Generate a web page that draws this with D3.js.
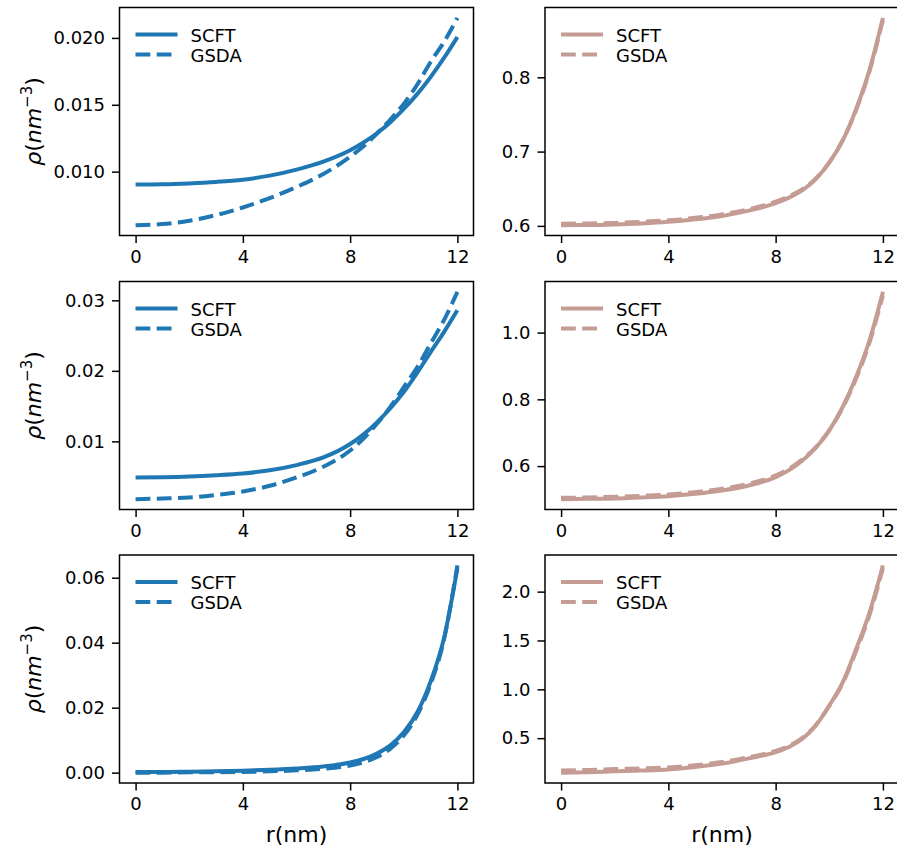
<!DOCTYPE html>
<html>
<head>
<meta charset="utf-8">
<script src="https://cdn.jsdelivr.net/npm/d3@7"></script>
<style>
  html, body { margin: 0; padding: 0; background: #ffffff; }
  svg { display: block; }
  text { font-family: "DejaVu Sans", sans-serif; fill: #000; }
</style>
</head>
<body>
<svg id="chart" width="897" height="852"></svg>
<script>
// ---------- data ----------
const r = [0, 1, 2, 3, 4, 5, 6, 7, 8, 8.5, 9, 9.5, 10, 10.5, 11, 11.5, 12];

const scftA = [0.00903, 0.00905, 0.00912, 0.00923, 0.0094, 0.0097, 0.01015, 0.01075, 0.0116, 0.01218, 0.01287, 0.0137, 0.01469, 0.0158, 0.01707, 0.0185, 0.02007];
const gsdaA = [0.0060, 0.00608, 0.00633, 0.00675, 0.00732, 0.00802, 0.00885, 0.00982, 0.01112, 0.0119, 0.01285, 0.0139, 0.01507, 0.0165, 0.0182, 0.0197, 0.0215];

const scftB = [0.00488, 0.00492, 0.00502, 0.0052, 0.00545, 0.0059, 0.00664, 0.00772, 0.00963, 0.0110, 0.0127, 0.0147, 0.0170, 0.0197, 0.02266, 0.0255, 0.0286];
const gsdaB = [0.00181, 0.0019, 0.00203, 0.0024, 0.00289, 0.0037, 0.00488, 0.0064, 0.00870, 0.0104, 0.0125, 0.0149, 0.01768, 0.0205, 0.02385, 0.0272, 0.0312];

const scftC = [0.0002, 0.0002, 0.0003, 0.0004, 0.0006, 0.0009, 0.0013, 0.0019, 0.0031, 0.0042, 0.0059, 0.0084, 0.0124, 0.0185, 0.028, 0.0414, 0.0630];
const gsdaC = [0.0000, 0.0000, 0.0001, 0.0001, 0.0002, 0.0004, 0.0007, 0.0012, 0.0022, 0.0032, 0.0048, 0.0074, 0.0114, 0.0177, 0.0272, 0.0410, 0.0638];

const scftD = [0.601, 0.6012, 0.602, 0.6033, 0.6054, 0.6088, 0.6134, 0.6205, 0.6305, 0.638, 0.648, 0.663, 0.685, 0.715, 0.757, 0.810, 0.880];
const gsdaD = [0.603, 0.6033, 0.604, 0.6055, 0.6075, 0.611, 0.6155, 0.6225, 0.6325, 0.640, 0.6495, 0.664, 0.6855, 0.715, 0.756, 0.808, 0.877];

const scftE = [0.501, 0.502, 0.503, 0.506, 0.510, 0.517, 0.527, 0.542, 0.567, 0.588, 0.617, 0.655, 0.707, 0.777, 0.867, 0.977, 1.122];
const gsdaE = [0.505, 0.506, 0.508, 0.511, 0.515, 0.522, 0.532, 0.547, 0.572, 0.592, 0.620, 0.657, 0.707, 0.775, 0.862, 0.970, 1.112];

const scftF = [0.147, 0.152, 0.160, 0.168, 0.180, 0.205, 0.239, 0.293, 0.357, 0.410, 0.494, 0.630, 0.834, 1.071, 1.412, 1.786, 2.269];
const gsdaF = [0.170, 0.175, 0.183, 0.190, 0.200, 0.222, 0.255, 0.305, 0.370, 0.422, 0.503, 0.635, 0.830, 1.060, 1.390, 1.760, 2.240];

const xTicks = [0, 4, 8, 12];
const yTicksA = [0.010, 0.015, 0.020];
const yTicksB = [0.01, 0.02, 0.03];
const yTicksC = [0.00, 0.02, 0.04, 0.06];
const yTicksD = [0.6, 0.7, 0.8];
const yTicksE = [0.6, 0.8, 1.0];
const yTicksF = [0.5, 1.0, 1.5, 2.0];

const seriesNames = ["SCFT", "GSDA"];
const colorLeft = "#1f77b4";
const colorRight = "#c49c94";

// ---------- layout ----------
const panels = [
  {row: 0, col: 0, s: scftA, g: gsdaA, ticks: yTicksA, fmt: ".3f", color: colorLeft},
  {row: 0, col: 1, s: scftD, g: gsdaD, ticks: yTicksD, fmt: ".1f", color: colorRight},
  {row: 1, col: 0, s: scftB, g: gsdaB, ticks: yTicksB, fmt: ".2f", color: colorLeft},
  {row: 1, col: 1, s: scftE, g: gsdaE, ticks: yTicksE, fmt: ".1f", color: colorRight},
  {row: 2, col: 0, s: scftC, g: gsdaC, ticks: yTicksC, fmt: ".2f", color: colorLeft},
  {row: 2, col: 1, s: scftF, g: gsdaF, ticks: yTicksF, fmt: ".1f", color: colorRight}
];

const colX = [119.5, 545];
const rowY = [7.5, 281.5, 555];
const pw = 354, ph = 228;
const fontSize = 18;
const labelSize = 22;

const svg = d3.select("#chart");
svg.append("rect").attr("width", 897).attr("height", 852).attr("fill", "#fff");

function padDomain(lo, hi) {
  const d = (hi - lo) * 0.05;
  return [lo - d, hi + d];
}

panels.forEach(p => {
  const x0 = colX[p.col], y0 = rowY[p.row];
  const g = svg.append("g").attr("transform", `translate(${x0},${y0})`);

  const x = d3.scaleLinear().domain(padDomain(d3.min(r), d3.max(r))).range([0, pw]);
  const all = p.s.concat(p.g);
  const y = d3.scaleLinear().domain(padDomain(d3.min(all), d3.max(all))).range([ph, 0]);

  const line = d3.line().x((d, i) => x(r[i])).y(d => y(d)).curve(d3.curveMonotoneX);

  g.append("path").datum(p.s).attr("d", line)
    .attr("fill", "none").attr("stroke", p.color).attr("stroke-width", 4);
  g.append("path").datum(p.g).attr("d", line)
    .attr("fill", "none").attr("stroke", p.color).attr("stroke-width", 4)
    .attr("stroke-dasharray", "14.8,6.4");

  // axes
  const xa = g.append("g").attr("transform", `translate(0,${ph})`)
    .call(d3.axisBottom(x).tickValues(xTicks).tickFormat(d3.format("d")).tickSize(7.5).tickPadding(7));
  const ya = g.append("g")
    .call(d3.axisLeft(y).tickValues(p.ticks).tickFormat(d3.format(p.fmt)).tickSize(7.5).tickPadding(7));
  [xa, ya].forEach(a => {
    a.select(".domain").remove();
    a.selectAll("line").attr("stroke", "#000").attr("stroke-width", 1.5);
    a.selectAll("text").attr("font-size", fontSize).attr("font-family", "DejaVu Sans");
  });

  // frame
  g.append("rect").attr("x", 0).attr("y", 0).attr("width", pw).attr("height", ph)
    .attr("fill", "none").attr("stroke", "#000").attr("stroke-width", 1.5);

  // legend
  const leg = g.append("g").attr("transform", "translate(16,27)");
  seriesNames.forEach((name, i) => {
    const ly = i * 20;
    leg.append("line").attr("x1", 0).attr("x2", 42).attr("y1", ly).attr("y2", ly)
      .attr("stroke", p.color).attr("stroke-width", 4)
      .attr("stroke-dasharray", i === 1 ? "14.8,6.4" : null);
    leg.append("text").attr("x", 55).attr("y", ly + 7).attr("font-size", fontSize).text(name);
  });

  // y label (left column)
  if (p.col === 0) {
    const t = svg.append("text")
      .attr("transform", `translate(${41},${y0 + ph / 2}) rotate(-90)`)
      .attr("text-anchor", "middle")
      .attr("font-size", labelSize);
    t.append("tspan").attr("font-style", "italic").text("ρ");
    t.append("tspan").text("(");
    t.append("tspan").attr("font-style", "italic").text("nm");
    t.append("tspan").attr("font-size", 15).attr("dy", -9).text("−3");
    t.append("tspan").attr("dy", 9).text(")");
  }
  // x label (bottom row)
  if (p.row === 2) {
    svg.append("text").attr("x", x0 + pw / 2).attr("y", 842)
      .attr("text-anchor", "middle").attr("font-size", labelSize).text("r(nm)");
  }
});
</script>
</body>
</html>
